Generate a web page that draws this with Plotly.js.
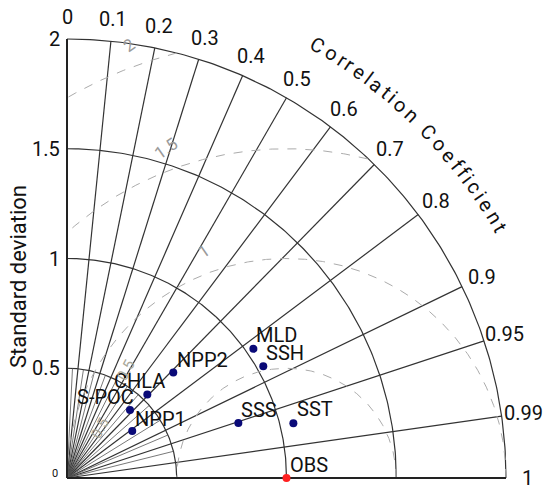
<!DOCTYPE html>
<html><head><meta charset="utf-8">
<script src="https://cdn.plot.ly/plotly-3.0.1.min.js"></script>
<style>html,body{margin:0;padding:0;background:#fff}</style>
</head><body><div id="chart" style="width:546px;height:490px"></div>
<script>
// ---- data ----
const models = ['MLD', 'SSH', 'NPP2', 'CHLA', 'S-POC', 'NPP1', 'SSS', 'SST'];
const modelStd = [1.033, 1.029, 0.682, 0.528, 0.422, 0.366, 0.820, 1.061];
const modelCorr = [0.822, 0.869, 0.710, 0.693, 0.680, 0.812, 0.952, 0.972];
const obsName = 'OBS';
const obsStd = 1.0;
const obsCorr = 1.0;
const corrTicks = [0, 0.1, 0.2, 0.3, 0.4, 0.5, 0.6, 0.7, 0.8, 0.9, 0.95, 0.99, 1];
const corrTickLabels = ['0', '0.1', '0.2', '0.3', '0.4', '0.5', '0.6', '0.7', '0.8', '0.9', '0.95', '0.99', '1'];
const corrMinor = [0.05, 0.15, 0.25, 0.35, 0.45, 0.55, 0.65, 0.75, 0.85, 0.92, 0.97];
const stdTicks = [0.5, 1, 1.5, 2];
const stdTickLabels = ['0.5', '1', '1.5', '2'];
const rmsTicks = [0.5, 1, 1.5, 2];
const rmsTickLabels = ['0.5', '1', '1.5', '2'];
const stdMax = 2;

// ---- label placement (style only) ----
const labelAnchor = ['left', 'left', 'left', 'right', 'right', 'left', 'left', 'left'];
const labelDx = [1, 1, 2, 20, 6, 1, 1, 2];
const labelDy = [14, 13, 13, 13, 13, 12, 13, 14];

const FONT = 'Roboto, "Open Sans", sans-serif';
const PX = 219.5, OX = 67, OY = 478, W = 546, H = 490;

const deg = Math.PI / 180;
function pol(r, th) { return [r * Math.cos(th), r * Math.sin(th)]; }

const traces = [];
// std arcs
{
  const x = [], y = [];
  stdTicks.forEach(s => {
    for (let a = 0; a <= 90.001; a += 0.5) { const p = pol(s, a * deg); x.push(p[0]); y.push(p[1]); }
    x.push(null); y.push(null);
  });
  traces.push({ x, y, mode: 'lines', line: { color: '#333', width: 1.2 }, hoverinfo: 'skip' });
}
// correlation rays
{
  const x = [], y = [];
  corrTicks.filter(c => c > 0 && c < 1).forEach(c => {
    const p = pol(stdMax, Math.acos(c));
    x.push(0, p[0], null); y.push(0, p[1], null);
  });
  traces.push({ x, y, mode: 'lines', line: { color: '#333', width: 1.2 }, hoverinfo: 'skip' });
  const mx = [], my = [];
  corrMinor.forEach(c => {
    const p = pol(stdTicks[0], Math.acos(c));
    mx.push(0, p[0], null); my.push(0, p[1], null);
  });
  traces.push({ x: mx, y: my, mode: 'lines', line: { color: '#555', width: 0.8 }, hoverinfo: 'skip' });
}
// RMS dashed circles about the observation
{
  const x = [], y = [];
  rmsTicks.forEach(r => {
    let open = false;
    for (let a = 0; a <= 180.001; a += 0.25) {
      const px = obsStd + r * Math.cos(a * deg), py = r * Math.sin(a * deg);
      if (px >= -1e-9 && px * px + py * py <= stdMax * stdMax + 1e-6) { x.push(px); y.push(py); open = true; }
      else if (open) { x.push(null); y.push(null); open = false; }
    }
    x.push(null); y.push(null);
  });
  traces.push({ x, y, mode: 'lines', line: { color: '#ababab', width: 1, dash: 'dash' }, hoverinfo: 'skip' });
}
// axes
traces.push({ x: [0, 0, null, 0, stdMax], y: [stdMax, 0, null, 0, 0], mode: 'lines',
  line: { color: '#222', width: 2 }, hoverinfo: 'skip' });
// points
const mx = modelStd.map((s, i) => s * modelCorr[i]);
const my = modelStd.map((s, i) => s * Math.sqrt(1 - modelCorr[i] * modelCorr[i]));
traces.push({ x: mx, y: my, mode: 'markers', marker: { color: '#0a0a78', size: 8 }, cliponaxis: false });
const ox = obsStd * obsCorr, oy = obsStd * Math.sqrt(1 - obsCorr * obsCorr);
traces.push({ x: [ox], y: [oy], mode: 'markers', marker: { color: '#ff2020', size: 8 }, cliponaxis: false });

const ann = [];
const tf = (size, color) => ({ family: FONT, size, color: color || '#111' });
// model labels
models.forEach((m, i) => ann.push({ x: mx[i], y: my[i], text: m, showarrow: false,
  xanchor: labelAnchor[i], yanchor: 'middle', xshift: labelDx[i], yshift: labelDy[i], font: tf(20) }));
ann.push({ x: ox, y: oy, text: obsName, showarrow: false, xanchor: 'left', yanchor: 'middle',
  xshift: 1, yshift: 13, font: tf(20) });
// correlation tick labels
corrTicks.forEach((c, i) => {
  const p = pol(stdMax * 1.05, Math.acos(c));
  ann.push({ x: p[0], y: p[1], text: corrTickLabels[i], showarrow: false, xanchor: 'center', yanchor: 'middle', font: tf(20) });
});
// std tick labels
stdTicks.forEach((s, i) => ann.push({ x: 0, y: s, text: stdTickLabels[i], showarrow: false,
  xanchor: 'right', yanchor: 'middle', xshift: -5, font: tf(20) }));
ann.push({ x: 0, y: 0, text: '0', showarrow: false, xanchor: 'right', yanchor: 'middle', xshift: -7, yshift: 5, font: tf(11) });
// y title
ann.push({ x: (18 - OX) / PX, y: (OY - 277) / PX, text: 'Standard deviation', textangle: -90, showarrow: false,
  xanchor: 'center', yanchor: 'middle', font: tf(22) });
// RMS labels
rmsTicks.forEach((r, i) => {
  if (r < 1) return;
  const a = 110 * deg, d = r + 0.1;
  ann.push({ x: obsStd + d * Math.cos(a), y: d * Math.sin(a), text: rmsTickLabels[i], showarrow: false,
    textangle: -35, xanchor: 'center', yanchor: 'middle', font: tf(17, '#9a9a9a') });
});
[[0.27, 0.49], [0.15, 0.23]].forEach(p => ann.push({ x: p[0], y: p[1], text: rmsTickLabels[0], showarrow: false,
  textangle: -62, xanchor: 'center', yanchor: 'middle', font: tf(15, '#aaa99a') }));
// curved title
{
  const title = 'Correlation Coefficient';
  const ctx = document.createElement('canvas').getContext('2d');
  ctx.font = '20px Roboto';
  const chars = [...title];
  const w = chars.map(ch => ctx.measureText(ch).width);
  const cen = []; let acc = 0;
  w.forEach(v => { cen.push(acc + v / 2); acc += v; });
  const s0 = cen[0], s1 = cen[cen.length - 1];
  const a0 = 60, a1 = 30, R = 2.28;
  chars.forEach((ch, i) => {
    if (ch === ' ') return;
    const a = a0 + (cen[i] - s0) / (s1 - s0) * (a1 - a0);
    const p = pol(R, a * deg);
    ann.push({ x: p[0], y: p[1], text: ch, showarrow: false, textangle: 90 - a, xanchor: 'center', yanchor: 'middle', font: tf(20) });
  });
}

const layout = {
  width: W, height: H, margin: { l: 0, r: 0, t: 0, b: 0 }, showlegend: false,
  paper_bgcolor: '#fff', plot_bgcolor: '#fff',
  xaxis: { range: [-OX / PX, (W - OX) / PX], visible: false, fixedrange: true },
  yaxis: { range: [-(H - OY) / PX, OY / PX], visible: false, fixedrange: true },
  annotations: ann, font: { family: FONT }
};
Plotly.newPlot('chart', traces, layout, { staticPlot: true, displayModeBar: false });
</script></body></html>
